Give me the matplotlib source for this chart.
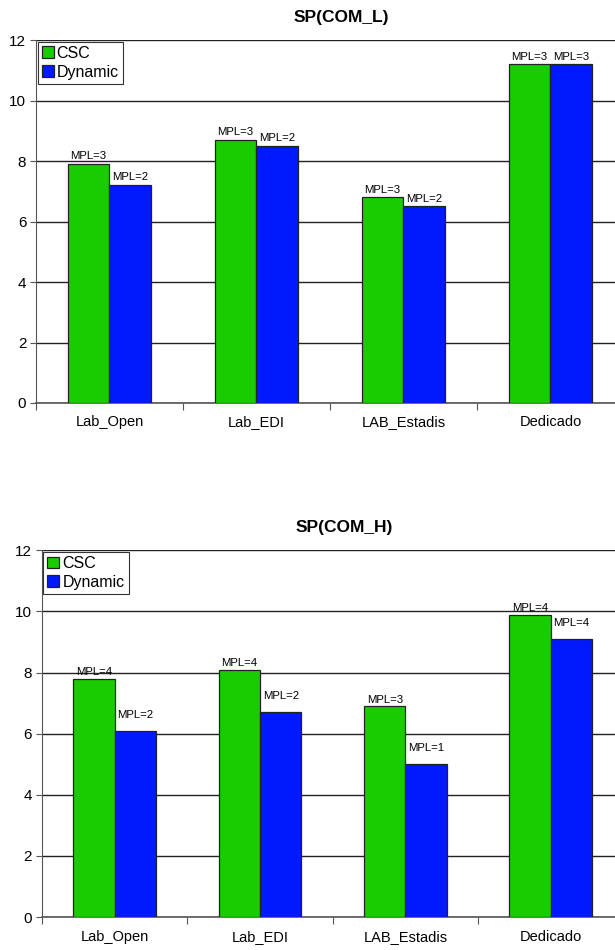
import matplotlib.pyplot as plt
import numpy as np

plt.rcParams['font.family'] = ['Liberation Sans', 'DejaVu Sans']

categories = ['Lab_Open', 'Lab_EDI', 'LAB_Estadis', 'Dedicado']
series_names = ['CSC', 'Dynamic']

top_title = 'SP(COM_L)'
top_csc = [7.9, 8.7, 6.8, 11.2]
top_dyn = [7.2, 8.5, 6.5, 11.2]
top_csc_mpl = ['MPL=3', 'MPL=3', 'MPL=3', 'MPL=3']
top_dyn_mpl = ['MPL=2', 'MPL=2', 'MPL=2', 'MPL=3']

bot_title = 'SP(COM_H)'
bot_csc = [7.8, 8.1, 6.9, 9.9]
bot_dyn = [6.1, 6.7, 5.0, 9.1]
bot_csc_mpl = ['MPL=4', 'MPL=4', 'MPL=3', 'MPL=4']
bot_dyn_mpl = ['MPL=2', 'MPL=2', 'MPL=1', 'MPL=4']

GREEN = '#19cc00'
BLUE = '#0019ff'


def draw_panel(ax, title, csc, dyn, csc_lbl, dyn_lbl, csc_off, dyn_off):
    x = np.arange(len(categories))
    w = 0.285
    b1 = ax.bar(x - w / 2, csc, w, color=GREEN, edgecolor='#222222', linewidth=0.9, label=series_names[0], zorder=3)
    b2 = ax.bar(x + w / 2, dyn, w, color=BLUE, edgecolor='#222222', linewidth=0.9, label=series_names[1], zorder=3)
    for rect, txt in zip(b1, csc_lbl):
        ax.annotate(txt, (rect.get_x() + rect.get_width() / 2, rect.get_height()),
                    xytext=(0, csc_off), textcoords='offset points',
                    ha='center', va='bottom', fontsize=8.2, zorder=4)
    for rect, txt in zip(b2, dyn_lbl):
        ax.annotate(txt, (rect.get_x() + rect.get_width() / 2, rect.get_height()),
                    xytext=(0, dyn_off), textcoords='offset points',
                    ha='center', va='bottom', fontsize=8.2, zorder=4)

    ax.set_xlim(-0.5, len(categories) - 0.5)
    ax.set_ylim(0, 12)
    ax.set_yticks(np.arange(0, 13, 2))
    ax.yaxis.grid(True, color='#222222', linewidth=1.0, zorder=0)
    ax.set_axisbelow(True)

    ax.set_xticks(np.arange(len(categories) + 1) - 0.5)
    ax.set_xticklabels([])
    ax.set_xticks(x, minor=True)
    ax.set_xticklabels(categories, minor=True, fontsize=10.5)
    ax.tick_params(axis='x', which='major', length=5, color='#555555')
    ax.tick_params(axis='x', which='minor', length=0, pad=9)
    ax.tick_params(axis='y', length=4, color='#555555', labelsize=11, pad=3)

    for side in ['top', 'right']:
        ax.spines[side].set_visible(False)
    ax.spines['left'].set_color('#555555')
    ax.spines['bottom'].set_color('#555555')
    ax.spines['bottom'].set_linewidth(1.2)

    ax.set_title(title, fontsize=12.5, fontweight='bold', pad=13, x=0.52)
    leg = ax.legend(loc='upper left', bbox_to_anchor=(0.0, 1.0), fontsize=11.5, frameon=True,
                    fancybox=False, borderpad=0.25, handlelength=0.75, handleheight=0.75,
                    handletextpad=0.2, labelspacing=0.25, borderaxespad=0.1)
    leg.get_frame().set_edgecolor('black')
    leg.get_frame().set_linewidth(0.8)


fig = plt.figure(figsize=(6.15, 9.5), dpi=100)
ax1 = fig.add_axes([0.0585, 0.5758, 0.956, 0.382])
ax2 = fig.add_axes([0.068, 0.0347, 0.946, 0.386])

draw_panel(ax1, top_title, top_csc, top_dyn, top_csc_mpl, top_dyn_mpl, 2, 2)
draw_panel(ax2, bot_title, bot_csc, bot_dyn, bot_csc_mpl, bot_dyn_mpl, 1, 8)

fig.savefig('out.png', dpi=100)
